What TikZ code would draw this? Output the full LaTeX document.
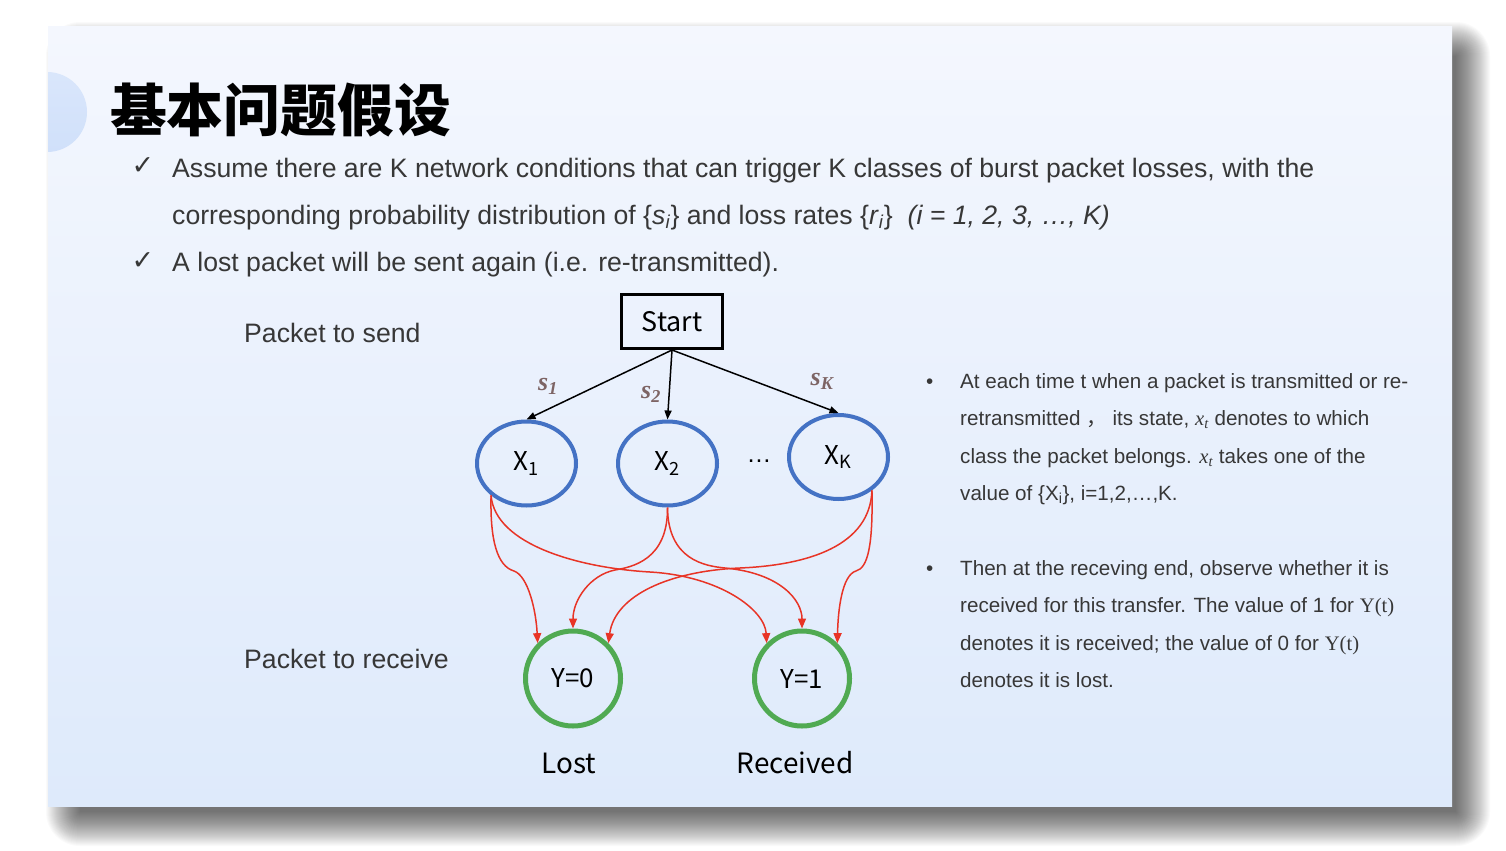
\RequirePackage{fix-cm}
\documentclass[tikz,border=0pt]{standalone}
\usepackage{fontspec}
\setmainfont{Liberation Sans}
\newfontfamily\cjk{Noto Sans CJK SC}
\newfontfamily\symb{DejaVu Sans}
\newfontfamily\serif{Liberation Serif}
\usetikzlibrary{arrows.meta,shapes.geometric,calc}

\definecolor{slidetop}{RGB}{244,247,254}
\definecolor{slidebot}{RGB}{222,234,251}
\definecolor{blobblue}{RGB}{208,224,250}
\definecolor{stateblue}{RGB}{68,114,196}
\definecolor{obsgreen}{RGB}{80,170,82}
\definecolor{trred}{RGB}{232,52,38}
\definecolor{labbrown}{RGB}{125,100,100}
\definecolor{txtgray}{RGB}{55,55,55}

\begin{document}
\begin{tikzpicture}[x=1bp, y=-1bp,
	xstate/.style={ellipse, draw=stateblue, line width=4bp, minimum width=99bp, minimum height=84bp, inner sep=0pt, font=\cjk\fontsize{26}{30}\selectfont},
	yobs/.style={circle, draw=obsgreen, line width=5bp, minimum size=95bp, inner sep=0pt, font=\cjk\fontsize{26}{30}\selectfont},
	startbox/.style={rectangle, draw=black, line width=3bp, minimum width=101bp, minimum height=54bp, inner sep=0pt, font=\cjk\fontsize{27}{30}\selectfont},
	prob/.style={-{Triangle[length=9bp,width=7bp]}, line width=1.5bp},
	trans/.style={draw=trred, line width=1.5bp, -{Triangle[length=10bp,width=8bp]}},
	maintext/.style={anchor=base west, inner sep=0pt, text=txtgray, font=\fontsize{26.75}{30}\selectfont},
	notetext/.style={anchor=base west, inner sep=0pt, text=txtgray, font=\fontsize{20.7}{24}\selectfont},
	tickmark/.style={inner sep=0pt, text=txtgray, font=\symb\fontsize{27}{30}\selectfont},
	problabel/.style={inner sep=0pt, text=labbrown, font=\serif\bfseries\itshape\fontsize{26}{28}\selectfont},
	caption/.style={inner sep=0pt, text=black, font=\cjk\fontsize{28}{30}\selectfont}]

\useasboundingbox (0,0) rectangle (1506,850);
\fill[white] (0,0) rectangle (1506,850);

% slide with its shadow
\foreach \e in {0,...,34}
	\fill[black, opacity=0.019, rounded corners=\e bp] (80-\e,56-\e) rectangle (1456+\e,812+\e);
\fill[top color=slidetop, bottom color=slidebot] (48,26) rectangle (1452,806);
\begin{scope}
	\clip (48,26) rectangle (1452,806);
	\shade[top color=blobblue!80!white, bottom color=blobblue] (47,112) circle[radius=40];
\end{scope}

\node[anchor=base west, inner sep=0pt, font=\cjk\bfseries\fontsize{57}{60}\selectfont] (title) at (110,131) {基本问题假设};

\node[tickmark] (tick1) at (143,166) {✓};
\node[maintext] (line1) at (172,177) {Assume there are K network conditions that can trigger K classes of burst packet losses, with the};
\node[maintext] (line2) at (172,224) {corresponding probability distribution of \{\textit{s}\textsubscript{\textit{i}}\} and loss rates \{\textit{r}\textsubscript{\textit{i}}\}\ \ \textit{(i = 1, 2, 3, …, K)}};
\node[tickmark] (tick2) at (143,261) {✓};
\node[maintext] (line3) at (172,271) {A lost packet will be sent again (i.e. re-transmitted).};

\node[maintext] (send) at (244,342) {Packet to send};
\node[maintext] (recv) at (244,668) {Packet to receive};

% states and observations
\node[startbox] (start) at (672,321.5) {Start};
\node[xstate] (x1) at (526.5,463.5) {X\textsubscript{1}};
\node[xstate] (x2) at (667.5,463.5) {X\textsubscript{2}};
\node[xstate] (xk) at (838.5,457) {X\textsubscript{K}};
\node[anchor=base, inner sep=0pt, font=\fontsize{25}{28}\selectfont] (dots) at (759,462) {…};
\node[yobs] (y0) at (573,678.5) {Y=0};
\node[yobs] (y1) at (802,678.5) {Y=1};
\node[caption] (lost) at (569,763) {Lost};
\node[caption] (rcvd) at (795,763) {Received};

\node[problabel] (s1) at (548,386) {s\textsubscript{1}};
\node[problabel] (s2) at (651,394) {s\textsubscript{2}};
\node[problabel] (sk) at (822,381) {s\textsubscript{K}};

\draw[prob] (start.south) -- (x1.north);
\draw[prob] (start.south) -- (x2.north);
\draw[prob] (start.south) -- (xk.north);

\draw[trans] (x1.222) .. controls (490,540) and (497,566) .. (514,571) .. controls (528,576) and (536,610) .. (y0.135);
\draw[trans] (x1.222) .. controls (495,545) and (580,568) .. (650,572) .. controls (720,576) and (765,610) .. (y1.135);
\draw[trans] (x2.south) .. controls (668,560) and (632,567) .. (615,570) .. controls (590,575) and (573,600) .. (y0.north);
\draw[trans] (x2.south) .. controls (668,560) and (705,566) .. (725,568) .. controls (780,573) and (802,600) .. (y1.north);
\draw[trans] (xk.-45) .. controls (870,545) and (810,565) .. (740,568) .. controls (670,571) and (615,595) .. (y0.45);
\draw[trans] (xk.-45) .. controls (873,545) and (868,568) .. (856,571) .. controls (842,575) and (838,610) .. (y1.45);

% notes on the right
\node[notetext] (dot1) at (926,388) {•};
\node[notetext] (n1) at (960,388) {At each time t when a packet is transmitted or re-};
\node[notetext] (n2) at (960,425.5) {retransmitted {\cjk ，} its state, {\serif\itshape x\textsubscript{t}} denotes to which};
\node[notetext] (n3) at (960,463) {class the packet belongs. {\serif\itshape x\textsubscript{t}} takes one of the};
\node[notetext] (n4) at (960,500.5) {value of \{X\textsubscript{i}\}, i=1,2,…,K.};
\node[notetext] (dot2) at (926,575) {•};
\node[notetext] (n5) at (960,575) {Then at the receving end, observe whether it is};
\node[notetext] (n6) at (960,612.5) {received for this transfer. The value of 1 for {\serif Y(t)}};
\node[notetext] (n7) at (960,650) {denotes it is received; the value of 0 for {\serif Y(t)}};
\node[notetext] (n8) at (960,687.5) {denotes it is lost.};

\end{tikzpicture}
\end{document}
